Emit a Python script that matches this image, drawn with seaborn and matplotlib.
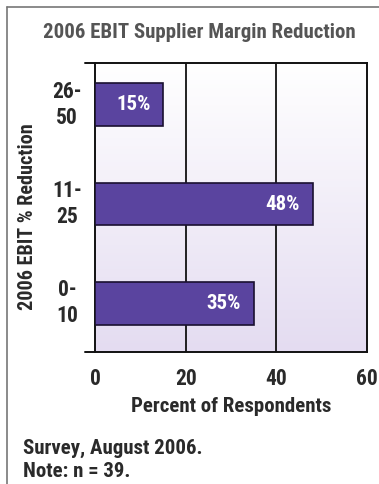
import matplotlib
matplotlib.use('Agg')
import matplotlib.pyplot as plt
from matplotlib.lines import Line2D
import seaborn as sns
import pandas as pd
import numpy as np

# data (top to bottom)
categories = ['26-\n50', '11-\n25', '0-\n10']
values = [15, 48, 35]
bar_labels = ['15%', '48%', '35%']
x_ticks = [0, 20, 40, 60]

df = pd.DataFrame({'range': categories, 'pct': values})

sns.set_style('white')
plt.rcParams['font.family'] = ['Liberation Sans Narrow', 'DejaVu Sans Condensed',
                               'Roboto Condensed', 'DejaVu Sans']
plt.rcParams['font.stretch'] = 'condensed'
plt.rcParams['font.weight'] = 'bold'

txt = '#2a2a2a'

fig = plt.figure(figsize=(3.79, 4.84), dpi=100)
ax = fig.add_axes([0.2507, 0.2727, 0.7176, 0.5971])

# white-to-lavender background inside the plot
grad = np.linspace(0, 1, 256).reshape(-1, 1)
cmap = matplotlib.colors.LinearSegmentedColormap.from_list('bg', ['#ffffff', '#e4dcf1'])
ax.imshow(grad, extent=[0, 1, 0, 1], transform=ax.transAxes, aspect='auto',
          cmap=cmap, zorder=0)

sns.barplot(data=df, x='pct', y='range', orient='h', color='#5a449f',
            saturation=1, width=0.43, edgecolor='#1a1030', linewidth=1.2,
            ax=ax, zorder=3)

for i, (v, lab) in enumerate(zip(values, bar_labels)):
    ax.annotate(lab, xy=(v, i), xytext=(-9, 0), textcoords='offset points',
                ha='right', va='center', color='white', fontsize=15,
                fontweight='bold', zorder=4)

ax.set_xlim(0, 60)
ax.set_ylim(2.49, -0.42)
ax.set_xticks(x_ticks)
ax.set_xticklabels([str(t) for t in x_ticks])
for g in [20, 40]:
    ax.axvline(g, color='#111111', lw=1.3, zorder=1)

for s in ax.spines.values():
    s.set_visible(True)
    s.set_color('#111111')
    s.set_linewidth(1.4)

# extend top and bottom frame lines a bit to the left
for yy in [0, 1]:
    ax.add_line(Line2D([-0.036, 0], [yy, yy], transform=ax.transAxes,
                       color='#111111', lw=1.4, clip_on=False))

# category labels drawn by hand so they can be centred
ax.set_yticks([0, 1, 2])
ax.set_yticklabels([])
ax.set_yticks([0.5, 1.5], minor=True)
ax.tick_params(axis='y', which='major', length=0)
ax.tick_params(axis='y', which='minor', length=7, width=1.4, color='#111111')
trans = matplotlib.transforms.blended_transform_factory(ax.transAxes, ax.transData)
for i, cat in enumerate(categories):
    ax.text(-0.103, i, cat, transform=trans, ha='center', va='center',
            fontsize=15.5, color=txt, fontweight='bold', linespacing=1.25)

ax.tick_params(axis='x', length=8, width=1.4, color='#111111', labelsize=15.5,
               labelcolor=txt, pad=3.5)

ax.set_xlabel('Percent of Respondents', fontsize=15, color=txt,
              fontweight='bold', labelpad=5)
ax.set_ylabel('2006 EBIT % Reduction', fontsize=14.5, color=txt,
              fontweight='bold')
ax.yaxis.set_label_coords(-0.215, 0.467)

fig.text(0.525, 0.932, '2006 EBIT Supplier Margin Reduction', ha='center',
         va='center', fontsize=15, color='#555555', fontweight='bold')
fig.text(0.06, 0.074, 'Survey, August 2006.', ha='left', va='center',
         fontsize=15, color=txt, fontweight='bold')
fig.text(0.06, 0.025, 'Note: n = 39.', ha='left', va='center',
         fontsize=15, color=txt, fontweight='bold')

# outer frame: top and left grey rules
fig.add_artist(Line2D([0.018, 1], [0.985, 0.985], transform=fig.transFigure,
                      color='#777777', lw=1.2))
fig.add_artist(Line2D([0.018, 0.018], [0, 0.985], transform=fig.transFigure,
                      color='#777777', lw=1.2))

fig.savefig('out.png', dpi=100)
